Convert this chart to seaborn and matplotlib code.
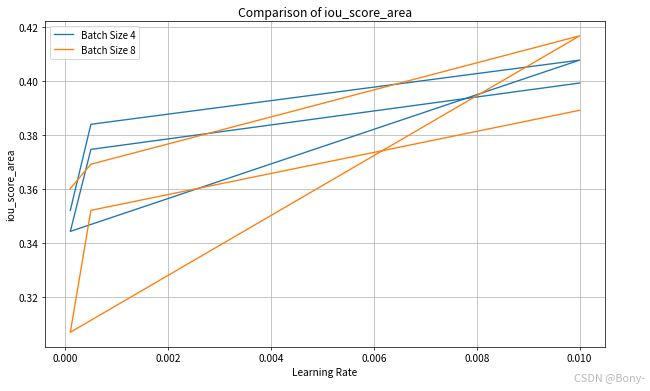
import matplotlib
matplotlib.use("Agg")
import matplotlib.pyplot as plt
import seaborn as sns
import pandas as pd

plt.rcParams['font.family'] = ['Noto Sans CJK SC', 'DejaVu Sans']
plt.rcParams['axes.unicode_minus'] = False

learning_rates = [0.0001, 0.0005, 0.01, 0.0001, 0.0005, 0.01]
iou_bs4 = [0.3520, 0.3839, 0.4077, 0.3442, 0.3746, 0.3992]
iou_bs8 = [0.3601, 0.3691, 0.4167, 0.3068, 0.3520, 0.3891]
labels = ["Batch Size 4", "Batch Size 8"]
colors = ["#1f77b4", "#ff7f0e"]

df4 = pd.DataFrame({"lr": learning_rates, "iou": iou_bs4})
df8 = pd.DataFrame({"lr": learning_rates, "iou": iou_bs8})

fig, ax = plt.subplots(figsize=(10, 6.03), dpi=65)
fig.subplots_adjust(left=0.069, right=0.931, top=0.944, bottom=0.112)

sns.lineplot(data=df4, x="lr", y="iou", sort=False, estimator=None,
             label=labels[0], color=colors[0], ax=ax)
sns.lineplot(data=df8, x="lr", y="iou", sort=False, estimator=None,
             label=labels[1], color=colors[1], ax=ax)

ax.set_title("Comparison of iou_score_area", fontsize=13.5)
ax.set_xlabel("Learning Rate", fontsize=11.2)
ax.set_ylabel("iou_score_area", fontsize=11.2)
ax.tick_params(labelsize=11.2)
ax.grid(True)
ax.legend(loc="upper left", fontsize=10.8)

fig.text(0.993, 0.02, "CSDN @Bony-", ha="right", va="bottom",
         color="#b8b8b8", fontsize=12)

fig.savefig("out.png", dpi=65)
